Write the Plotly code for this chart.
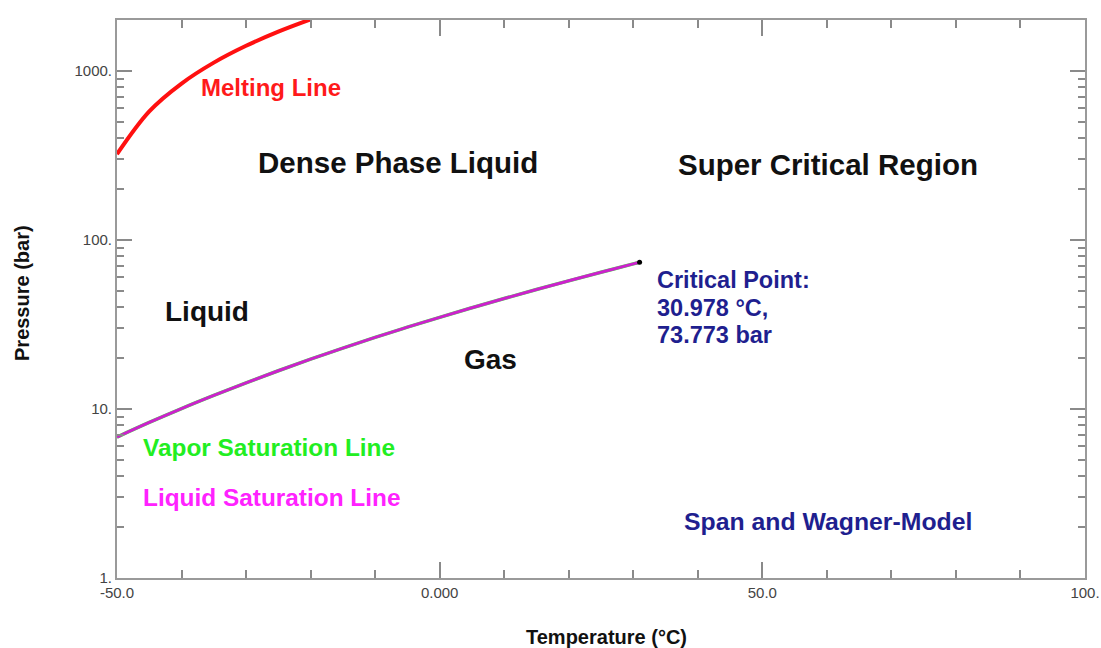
import math
import plotly.graph_objects as go

# ---- data ----
melt_T = [-50, -45, -40, -35, -30, -25, -20]
melt_p = [321.6, 576.0, 841.7, 1118.8, 1407.0, 1707.0, 2018.0]

sat_T = [-50, -45, -40, -35, -30, -25, -20, -15, -10, -5, 0, 5, 10, 15, 20, 25, 30, 30.978]
sat_p = [6.82, 8.32, 10.05, 12.02, 14.28, 16.83, 19.70, 22.91, 26.49, 30.46, 34.85,
         39.69, 45.02, 50.87, 57.29, 64.34, 72.14, 73.773]

crit_T = [30.978]
crit_p = [73.773]

x_ticks = [-50, 0, 50, 100]
x_ticktext = ["-50.0", "0.000", "50.0", "100."]
x_minor = [-40, -30, -20, -10, 10, 20, 30, 40, 60, 70, 80, 90]
y_ticks = [1, 10, 100, 1000]
y_ticktext = ["1.", "10.", "100.", "1000."]
y_minor = [m * 10 ** d for d in range(0, 4) for m in range(2, 10) if m * 10 ** d <= 2000]

FONT = "Liberation Sans, Arial, sans-serif"
NAVY = "#1f1f8f"

fig = go.Figure()
fig.add_trace(go.Scatter(x=melt_T, y=melt_p, mode="lines", line=dict(color="#ff1010", width=4, shape="spline"),
                         showlegend=False, hoverinfo="skip"))
fig.add_trace(go.Scatter(x=sat_T, y=sat_p, mode="lines", line=dict(color="#44ee44", width=3.5, shape="spline"),
                         showlegend=False, hoverinfo="skip"))
fig.add_trace(go.Scatter(x=sat_T, y=sat_p, mode="lines", line=dict(color="#cc22cc", width=3, shape="spline"),
                         showlegend=False, hoverinfo="skip"))
fig.add_trace(go.Scatter(x=crit_T, y=crit_p, mode="markers", marker=dict(color="black", size=5),
                         showlegend=False, hoverinfo="skip"))


def lab(text, x, ylog, size, color, xanchor="center"):
    fig.add_annotation(x=x, y=ylog, xref="x", yref="y", text=text, showarrow=False,
                       xanchor=xanchor, yanchor="middle",
                       font=dict(family=FONT, size=size, color=color, weight="bold"))


lab("Melting Line", -26.1, 2.899, 24, "#ff1a1a")
lab("Dense Phase Liquid", -6.5, 2.456, 29.5, "#111111")
lab("Super Critical Region", 60.1, 2.444, 29.5, "#111111")
lab("Liquid", -36.1, 1.574, 28, "#111111")
lab("Gas", 7.8, 1.290, 28, "#111111")
lab("Critical Point:", 33.4, 1.763, 23.5, NAVY, "left")
lab("30.978 °C,", 33.4, 1.598, 23.5, NAVY, "left")
lab("73.773 bar", 33.4, 1.438, 23.5, NAVY, "left")
lab("Vapor Saturation Line", -26.4, 0.775, 24.4, "#22ee22")
lab("Liquid Saturation Line", -26.1, 0.479, 24.4, "#ff22ff")
lab("Span and Wagner-Model", 60.25, 0.337, 24.8, NAVY)

fig.add_annotation(x=-0.098, y=0.511, xref="paper", yref="paper", text="Pressure (bar)", showarrow=False,
                   textangle=-90, xanchor="center", yanchor="middle",
                   font=dict(family=FONT, size=20, color="#111111", weight="bold"))
fig.add_annotation(x=0.506, y=-0.105, xref="paper", yref="paper", text="Temperature (°C)", showarrow=False,
                   xanchor="center", yanchor="middle",
                   font=dict(family=FONT, size=20, color="#111111", weight="bold"))

axis_common = dict(showgrid=False, zeroline=False, showline=True, linecolor="#9a9a9a", linewidth=2,
                   mirror="allticks", ticks="inside", tickcolor="#8a8a8a", tickwidth=1.5,
                   automargin=False,
                   tickfont=dict(family=FONT, size=15, color="#444444"))

fig.update_xaxes(range=[-50, 100], tickmode="array", tickvals=x_ticks, ticktext=x_ticktext, ticklen=16,
                 minor=dict(tickmode="array", tickvals=x_minor, ticks="inside", ticklen=8,
                            tickcolor="#8a8a8a", tickwidth=1.5, showgrid=False),
                 **axis_common)
fig.update_yaxes(type="log", range=[0, math.log10(2000)], tickmode="array", tickvals=y_ticks,
                 ticktext=y_ticktext, ticklen=15,
                 minor=dict(tickmode="array", tickvals=y_minor, ticks="inside", ticklen=7,
                            tickcolor="#8a8a8a", tickwidth=1.5, showgrid=False),
                 **axis_common)

fig.update_layout(width=1101, height=648, margin=dict(l=117, r=16, t=20, b=70),
                  paper_bgcolor="white", plot_bgcolor="white", showlegend=False)

fig.write_html("out.html", config={"displayModeBar": False},
               post_script="document.body.style.margin='0';document.body.style.overflow='hidden';")
